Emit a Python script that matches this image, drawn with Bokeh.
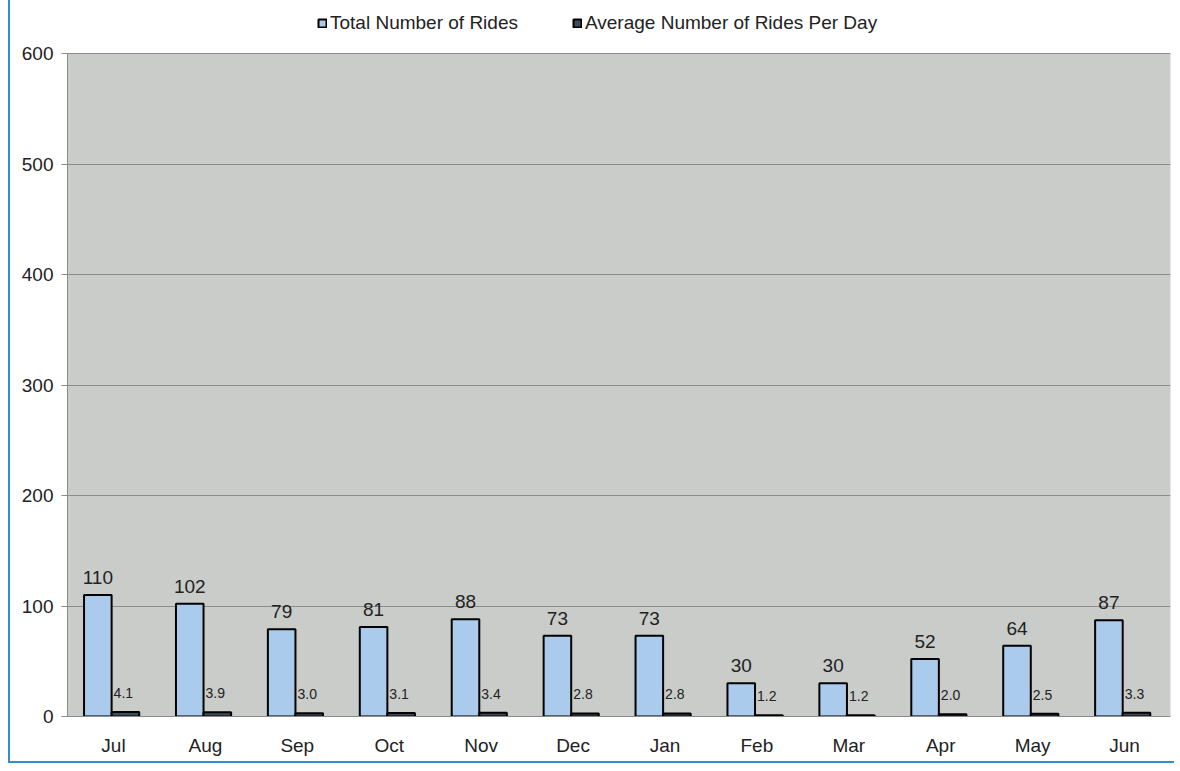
from bokeh.plotting import figure
from bokeh.models import (ColumnDataSource, LabelSet, Legend, LegendItem, FixedTicker,
                          BoxAnnotation)
from bokeh.transform import dodge
from bokeh.core.properties import value
from bokeh.embed import file_html
from bokeh.resources import INLINE

months = ["Jul", "Aug", "Sep", "Oct", "Nov", "Dec", "Jan", "Feb", "Mar", "Apr", "May", "Jun"]
total_rides = [110, 102, 79, 81, 88, 73, 73, 30, 30, 52, 64, 87]
avg_rides_per_day = [4.1, 3.9, 3.0, 3.1, 3.4, 2.8, 2.8, 1.2, 1.2, 2.0, 2.5, 3.3]
y_ticks = [0, 100, 200, 300, 400, 500, 600]

src = ColumnDataSource(dict(
    month=months,
    total=total_rides,
    avg=avg_rides_per_day,
    total_lbl=[str(v) for v in total_rides],
    avg_lbl=["%.1f" % v for v in avg_rides_per_day],
))

FONT = "Liberation Sans"
Y_MAX = 600
FRAME_H = 708          # frame incl. room for legend above the 600 line
PLOT_H = 663           # pixel height of the 0..600 area
y_end = Y_MAX * FRAME_H / PLOT_H

p = figure(x_range=months, y_range=(0, y_end), frame_width=1103, frame_height=FRAME_H,
           output_backend="svg", toolbar_location=None)
p.styles = {"margin-left": "8px", "border-left": "2px solid #2f8fd6",
            "border-bottom": "2px solid #2f8fd6"}
p.min_border_left = 57
p.min_border_right = 4
p.min_border_bottom = 45
p.min_border_top = 8
p.background_fill_color = "white"
p.border_fill_color = "white"
p.outline_line_color = None

p.add_layout(BoxAnnotation(bottom=0, top=Y_MAX, fill_color="#c9ccc9", fill_alpha=1,
                           line_color="#9a9d9a", line_width=1, level="image"))

r1 = p.vbar(x=dodge("month", -0.17, range=p.x_range), top="total", width=0.3, source=src,
            fill_color="#abcbec", line_color="black", line_width=2)
r2 = p.vbar(x=dodge("month", 0.13, range=p.x_range), top="avg", width=0.3, source=src,
            fill_color="#3e4d5a", line_color="black", line_width=2)

p.add_layout(LabelSet(x=dodge("month", -0.17, range=p.x_range), y="total", text="total_lbl",
                      source=src, text_align="center", y_offset=11, text_font=value(FONT),
                      text_font_size="19px", text_color="#222222"))
p.add_layout(LabelSet(x=dodge("month", -0.02, range=p.x_range), y="avg", text="avg_lbl",
                      source=src, text_align="left", x_offset=2, y_offset=14, text_font=value(FONT),
                      text_font_size="14px", text_color="#222222"))

p.yaxis.ticker = FixedTicker(ticks=y_ticks)
p.yaxis.bounds = (0, Y_MAX)
p.ygrid.grid_line_color = "#8a8d8a"
p.ygrid.grid_line_width = 1.2
p.xgrid.grid_line_color = None

for ax in (p.xaxis, p.yaxis):
    ax.axis_line_color = "#8a8a8a"
    ax.major_label_text_font = FONT
    ax.major_label_text_font_size = "19px"
    ax.major_label_text_color = "#222222"
    ax.minor_tick_line_color = None
p.yaxis.major_tick_line_color = "#8a8a8a"
p.yaxis.major_tick_in = 0
p.yaxis.major_tick_out = 6
p.yaxis.major_label_standoff = 8
p.xaxis.major_tick_line_color = None
p.xaxis.major_label_standoff = 12

legend = Legend(items=[LegendItem(label="Total Number of Rides", renderers=[r1]),
                       LegendItem(label="Average Number of Rides Per Day", renderers=[r2])],
                orientation="horizontal", location=(250, FRAME_H - 26),
                label_text_font=FONT, label_text_font_size="19px", label_text_color="#222222",
                glyph_width=10, glyph_height=10, spacing=54, label_standoff=3,
                background_fill_alpha=0, border_line_color=None, margin=0, padding=6)
p.add_layout(legend, "center")

open("out.html", "w").write(file_html(p, INLINE))
